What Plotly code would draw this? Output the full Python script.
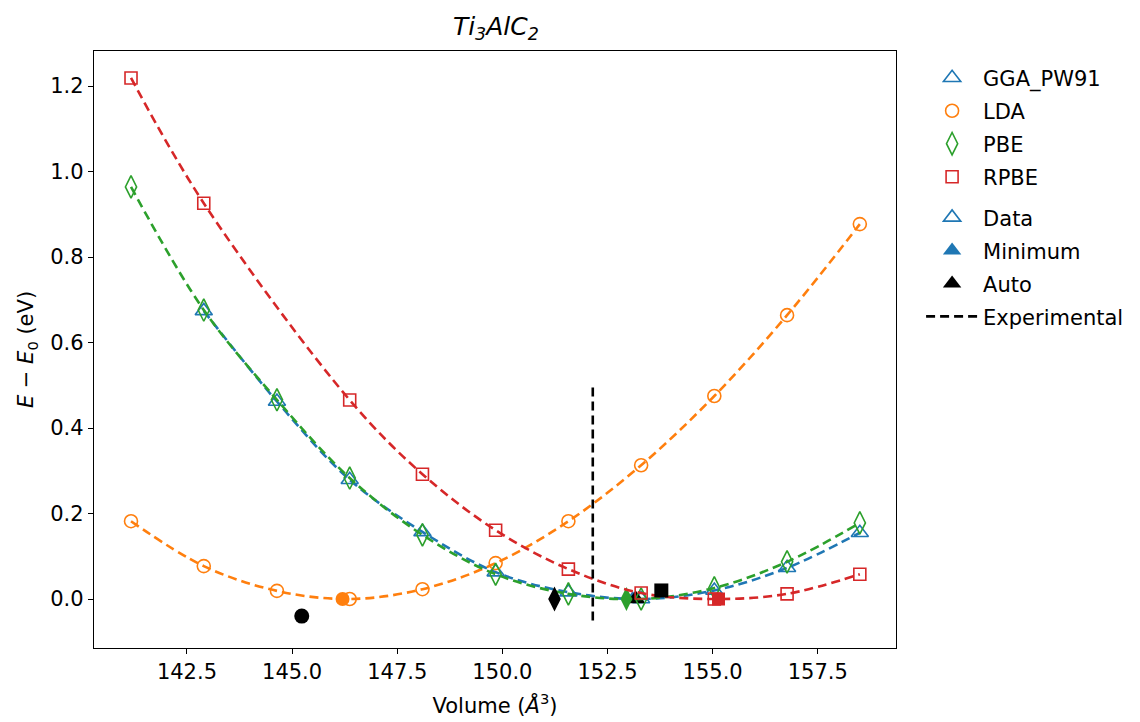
import numpy as np
import plotly.graph_objects as go

# Cell volumes (Å^3) sampled for every functional
volumes = [141.17, 142.90, 144.64, 146.37, 148.10, 149.84, 151.57, 153.30, 155.04, 156.77, 158.50]

# Relative energies E - E0 (eV); None marks a missing calculation
e_gga_pw91 = [None, 0.674, 0.462, 0.279, 0.157, 0.063, 0.016, 0.000, 0.020, 0.073, 0.155]
e_lda = [0.182, 0.077, 0.019, 0.000, 0.023, 0.084, 0.182, 0.313, 0.475, 0.664, 0.877]
e_pbe = [0.964, 0.676, 0.466, 0.283, 0.150, 0.058, 0.012, 0.000, 0.026, 0.087, 0.178]
e_rpbe = [1.219, 0.926, None, 0.4655, 0.292, 0.161, 0.070, 0.014, 0.000, 0.012, 0.058]

# Fitted minima (volume, energy) per functional
min_volume = {"GGA_PW91": 153.10, "LDA": 146.20, "PBE": 152.95, "RPBE": 155.14}
min_energy = {"GGA_PW91": 0.000, "LDA": 0.000, "PBE": 0.000, "RPBE": 0.000}

# Automatic equilibrium estimates (volume, energy) per functional
auto_volume = {"GGA_PW91": 153.17, "LDA": 145.23, "PBE": 151.24, "RPBE": 153.78}
auto_energy = {"GGA_PW91": 0.000, "LDA": -0.040, "PBE": 0.000, "RPBE": 0.020}

# Experimental volume and the energy span of its marker line
exp_volume = 152.15
exp_span = [-0.05, 0.5]

x_ticks = [142.5, 145.0, 147.5, 150.0, 152.5, 155.0, 157.5]
y_ticks = [0.0, 0.2, 0.4, 0.6, 0.8, 1.0, 1.2]

# name, energies, colour, symbol, marker size
series = [
    ("GGA_PW91", e_gga_pw91, "#1f77b4", "triangle-up", 15),
    ("LDA", e_lda, "#ff7f0e", "circle", 13),
    ("PBE", e_pbe, "#2ca02c", "diamond-tall", 16),
    ("RPBE", e_rpbe, "#d62728", "square", 12),
]

DASH = "9px,5px"
LW = 2.6

fig = go.Figure()

for name, energies, color, symbol, ms in series:
    vx = [v for v, e in zip(volumes, energies) if e is not None]
    ey = [e for e in energies if e is not None]
    # dashed curve through the computed points
    fig.add_trace(go.Scatter(
        x=vx, y=ey, mode="lines", line=dict(color=color, width=LW, dash=DASH, shape="spline", smoothing=1.0),
        showlegend=False, hoverinfo="skip"))
    # open data markers
    fig.add_trace(go.Scatter(
        x=vx, y=ey, mode="markers", name=name, legend="legend", legendgroup=name,
        marker=dict(symbol=symbol + "-open", size=ms, color=color, line=dict(width=1.6, color=color))))
    # filled minimum
    fig.add_trace(go.Scatter(
        x=[min_volume[name]], y=[min_energy[name]], mode="markers", showlegend=False,
        marker=dict(symbol=symbol, size=ms + 1, color=color, line=dict(width=0))))
    # black automatic estimate
    fig.add_trace(go.Scatter(
        x=[auto_volume[name]], y=[auto_energy[name]], mode="markers", showlegend=False,
        marker=dict(symbol=symbol, size=ms + 2, color="black", line=dict(width=0))))

# experimental volume
fig.add_trace(go.Scatter(
    x=[exp_volume, exp_volume], y=exp_span, mode="lines", showlegend=False,
    line=dict(color="black", width=LW, dash=DASH), hoverinfo="skip"))

# key entries for the marker styles
blue = "#1f77b4"
fig.add_trace(go.Scatter(x=[None], y=[None], mode="markers", name="Data", legend="legend2", legendgroup="Data",
                         marker=dict(symbol="triangle-up-open", size=15, color=blue, line=dict(width=1.6, color=blue))))
fig.add_trace(go.Scatter(x=[None], y=[None], mode="markers", name="Minimum", legend="legend2", legendgroup="Minimum",
                         marker=dict(symbol="triangle-up", size=16, color=blue)))
fig.add_trace(go.Scatter(x=[None], y=[None], mode="markers", name="Auto", legend="legend2", legendgroup="Auto",
                         marker=dict(symbol="triangle-up", size=16, color="black")))
fig.add_trace(go.Scatter(x=[None], y=[None], mode="lines", name="Experimental", legend="legend2", legendgroup="Exp",
                         line=dict(color="black", width=LW, dash=DASH)))

FONT = "DejaVu Sans"
FS = 21
axis_common = dict(
    showline=True, linecolor="black", linewidth=1.3, mirror=True,
    ticks="outside", ticklen=5, tickwidth=1.3, tickcolor="black",
    showgrid=False, zeroline=False, tickfont=dict(family=FONT, size=FS, color="black"),
    tickformat=".1f", automargin=False,
)

legend_common = dict(
    font=dict(family=FONT, size=FS, color="black"), bgcolor="rgba(0,0,0,0)",
    borderwidth=0, tracegroupgap=2.7, itemwidth=52, xanchor="left", yanchor="top",
    traceorder="grouped", itemclick=False,
)

fig.update_layout(
    width=1140, height=722,
    margin=dict(l=94, r=243, t=51, b=74),
    paper_bgcolor="white", plot_bgcolor="white",
    font=dict(family=FONT, size=FS, color="black"),
    title=dict(text="<i>Ti<sub>3</sub>AlC<sub>2</sub></i>", x=0.435, xanchor="center",
               y=0.964, yanchor="middle", font=dict(family=FONT, size=25, color="black")),
    xaxis=dict(axis_common, range=[140.29, 159.36], tickvals=x_ticks,
               title=dict(text="Volume (<i>Å</i><sup>3</sup>)", standoff=14,
                          font=dict(family=FONT, size=FS, color="black"))),
    yaxis=dict(axis_common, range=[-0.1146, 1.282], tickvals=y_ticks,
               title=dict(text="<i>E</i> − <i>E</i><sub>0</sub> (eV)", standoff=10,
                          font=dict(family=FONT, size=FS, color="black"))),
    legend=dict(legend_common, x=1.03, y=0.989),
    legend2=dict(legend_common, x=1.03, y=0.755),
    showlegend=True,
)

fig.write_html("out.html")
